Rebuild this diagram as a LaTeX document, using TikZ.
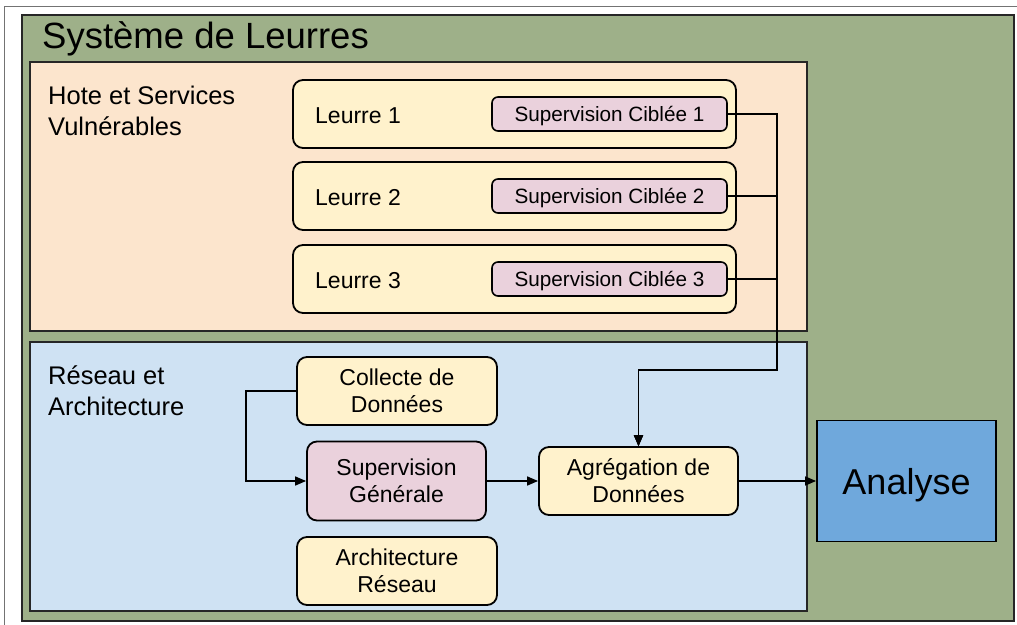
\documentclass[tikz,border=0pt]{standalone}
\usepackage{fontspec}
\setmainfont{Liberation Sans}
\usetikzlibrary{arrows.meta}
\definecolor{cgreen}{RGB}{158,176,137}
\definecolor{cpeach}{RGB}{252,229,205}
\definecolor{cblue}{RGB}{207,226,243}
\definecolor{cyellow}{RGB}{255,242,204}
\definecolor{cpink}{RGB}{234,209,220}
\definecolor{canalyse}{RGB}{111,168,220}
\newcommand{\fTitle}{\fontsize{36.5}{42}\selectfont}
\newcommand{\fGroup}{\fontsize{25.5}{31}\selectfont}
\newcommand{\fIn}{\fontsize{23}{27}\selectfont}
\newcommand{\fSc}{\fontsize{20.7}{24}\selectfont}
\newcommand{\fAn}{\fontsize{36}{42}\selectfont}
\tikzset{
  container/.style={draw=black!85, line width=1.8pt, inner sep=0pt},
  ybox/.style={draw=black, line width=1.8pt, fill=cyellow, rounded corners=10pt, inner sep=0pt, align=center, font=\fIn},
  pbox/.style={draw=black, line width=1.8pt, fill=cpink, rounded corners=10pt, inner sep=0pt, align=center, font=\fIn},
  scbox/.style={draw=black, line width=1.6pt, fill=cpink, rounded corners=6pt, inner sep=0pt, font=\fSc},
  conn/.style={draw=black, line width=1.6pt},
  arr/.style={conn, -{Triangle[length=11pt,width=9pt]}},
  txt/.style={inner sep=0pt, anchor=base west},
}
\begin{document}
\begin{tikzpicture}[x=1pt,y=-1pt]
\useasboundingbox (0,0) rectangle (1017,624);
% outer frame
\draw[black!55, line width=1.3pt] (4.5,6.5) rectangle (1040,650);
% containers
\node[container, fill=cgreen, minimum width=992pt, minimum height=606pt] (sys) at (518,318) {};
\node[txt, font=\fTitle] (systitle) at (42,48) {Système de Leurres};
\node[container, fill=cpeach, minimum width=777pt, minimum height=269pt] (hote) at (418.5,196.5) {};
\node[txt, font=\fGroup, align=left] (hotetitle) at (48,135) {Hote et Services\\Vulnérables};
\node[container, fill=cblue, minimum width=777pt, minimum height=269pt] (res) at (418.5,476.5) {};
\node[txt, font=\fGroup, align=left] (restitle) at (48,415) {Réseau et\\Architecture};
% leurres
\node[ybox, minimum width=443pt, minimum height=68pt] (l1) at (514.5,114) {};
\node[ybox, minimum width=443pt, minimum height=68pt] (l2) at (514.5,196) {};
\node[ybox, minimum width=443pt, minimum height=68pt] (l3) at (514.5,279) {};
\node[txt, font=\fIn] (l1t) at (315,123) {Leurre 1};
\node[txt, font=\fIn] (l2t) at (315,205) {Leurre 2};
\node[txt, font=\fIn] (l3t) at (315,288) {Leurre 3};
\node[scbox, minimum width=235pt, minimum height=34pt] (sc1) at (609.5,114) {};
\node[scbox, minimum width=235pt, minimum height=34pt] (sc2) at (609.5,196) {};
\node[scbox, minimum width=235pt, minimum height=34pt] (sc3) at (609.5,279) {};
\node[inner sep=0pt, anchor=base, font=\fSc] (sc1t) at (609.5,121.5) {Supervision Ciblée 1};
\node[inner sep=0pt, anchor=base, font=\fSc] (sc2t) at (609.5,203.5) {Supervision Ciblée 2};
\node[inner sep=0pt, anchor=base, font=\fSc] (sc3t) at (609.5,286.5) {Supervision Ciblée 3};
% reseau
\node[ybox, minimum width=200pt, minimum height=68pt] (col) at (397,391) {Collecte de\\Données};
\node[pbox, minimum width=179pt, minimum height=79pt] (sg) at (396.5,481) {Supervision\\Générale};
\node[ybox, minimum width=199pt, minimum height=68pt] (agg) at (638.5,481) {Agrégation de\\Données};
\node[ybox, minimum width=200pt, minimum height=68pt] (arch) at (397,571) {Architecture\\Réseau};
% analyse
\node[draw=black, line width=1.8pt, fill=canalyse, inner sep=0pt, minimum width=179pt, minimum height=121pt, text height=26pt, text depth=0pt, font=\fAn] (an) at (906.5,481) {Analyse};
% connectors
\coordinate (bus) at (777,370);
\draw[arr] (sc1.east) -| (bus) -| (agg.north);
\draw[arr] (sc2.east) -| (bus) -| (agg.north);
\draw[arr] (sc3.east) -| (bus) -| (agg.north);
\draw[arr] (col.west) -- ++(-50,0) |- (sg.west);
\draw[arr] (sg.east) -- (agg.west);
\draw[arr] (agg.east) -- (an.west);
\end{tikzpicture}
\end{document}
